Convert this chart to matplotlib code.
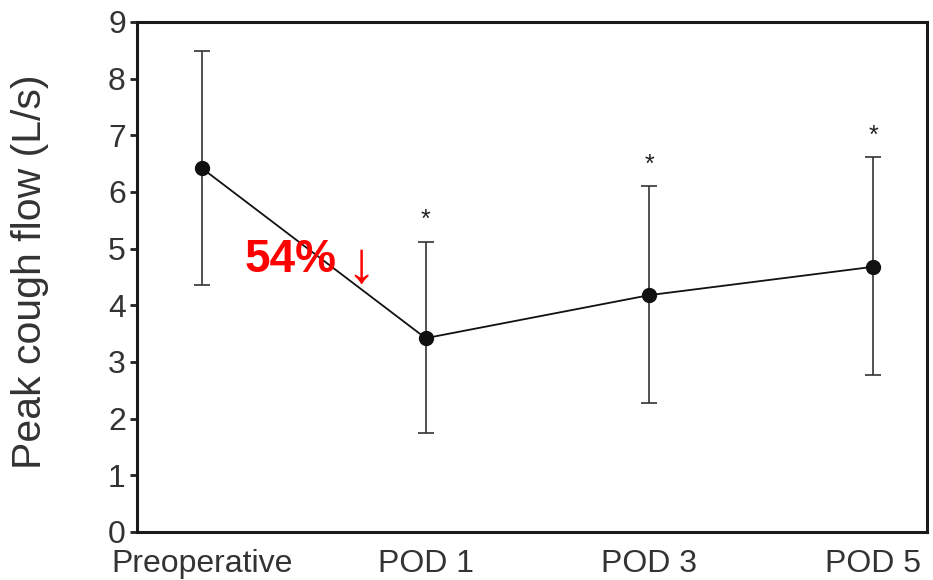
import numpy as np
import matplotlib
matplotlib.use('Agg')
import matplotlib.pyplot as plt

plt.rcParams['font.family'] = ['Liberation Sans', 'DejaVu Sans']

# data
groups = ['Preoperative', 'POD 1', 'POD 3', 'POD 5']
pcf_mean = [6.42, 3.42, 4.18, 4.68]
pcf_upper = [8.48, 5.12, 6.10, 6.61]
pcf_lower = [4.35, 1.74, 2.28, 2.77]
significant = [False, True, True, True]

x = np.arange(len(groups))
mean = np.array(pcf_mean)
err = [mean - np.array(pcf_lower), np.array(pcf_upper) - mean]

fig = plt.figure(figsize=(9.33, 5.80), dpi=100)
ax = fig.add_axes([0.1468, 0.0828, 0.8468, 0.8793])

ax.errorbar(x, mean, yerr=err, fmt='-o', color='#111111', lw=1.3,
            elinewidth=1.2, ecolor='#333333', capsize=5.5, capthick=1.2,
            markersize=10)

# asterisks above the upper caps
for xi, up, sig in zip(x, pcf_upper, significant):
    if sig:
        ax.annotate('*', (xi, up), xytext=(0, 7), textcoords='offset points',
                    ha='center', va='bottom', fontsize=18, color='#222222')

# percent drop label
ax.text(0.19, 4.8, '54%', color='#ff0000', fontsize=33, fontweight='bold',
        ha='left', va='center')
ax.text(0.71, 4.68, '\u2193', color='#ff0000', fontsize=42,
        ha='center', va='center', family=['Liberation Sans', 'DejaVu Sans'])

ax.set_xlim(-0.29, 3.24)
ax.set_ylim(0, 9)
ax.set_yticks(range(0, 10))
ax.set_xticks(x)
ax.set_xticklabels(groups)

ax.tick_params(axis='y', labelsize=23, length=5, width=2, pad=3,
               colors='#222222', labelcolor='#333333')
ax.tick_params(axis='x', labelsize=23, length=0, pad=12, labelcolor='#333333')
for s in ax.spines.values():
    s.set_linewidth(2.2)
    s.set_color('#1a1a1a')

ax.set_ylabel('Peak cough flow (L/s)', fontsize=29.5, color='#333333', va='center')
ax.yaxis.set_label_coords(-0.135, 0.51)

fig.savefig('out.png', dpi=100)
